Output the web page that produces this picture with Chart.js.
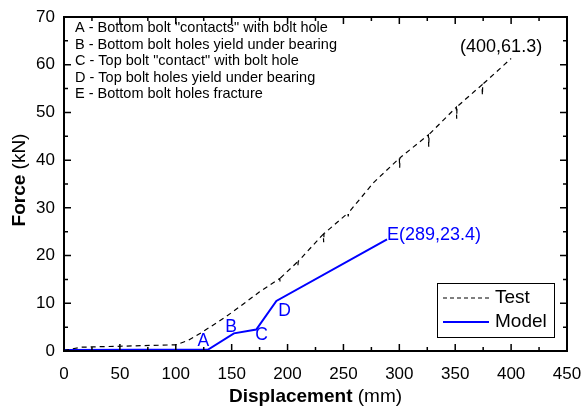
<!DOCTYPE html>
<html>
<head>
<meta charset="utf-8">
<script src="https://cdn.jsdelivr.net/npm/chart.js@4/dist/chart.umd.min.js"></script>
<style>
  html, body { margin: 0; padding: 0; background: #fff; }
  #wrap { width: 582px; height: 412px; }
</style>
</head>
<body>
<div id="wrap"><canvas id="myChart" width="582" height="412"></canvas></div>
<script>
// measured load-displacement curve (small spikes are the slip drops)
const testX = [0, 15, 50, 100, 111, 124, 145, 163, 175, 193, 193.3, 193.6, 209, 209.3, 209.6,
  232, 232.3, 232.6, 254, 254.3, 254.6, 277, 300, 300.3, 300.6, 326, 326.3, 326.6,
  351, 351.3, 351.6, 374, 374.3, 374.6, 400]
const testY = [0.1, 0.8, 1.0, 1.3, 2.2, 4.0, 7.2, 10.3, 12.4, 15.2, 14.5, 15.3, 18.7, 18.0, 18.8,
  24.5, 22.8, 24.6, 28.9, 28.2, 29.0, 35.3, 40.4, 38.4, 40.5, 45.3, 42.8, 45.4,
  51.1, 48.7, 51.2, 55.8, 53.6, 55.9, 61.3]

// model, stages A..E
const modelX = [0, 129, 152, 172, 190, 289]
const modelY = [0.2, 0.3, 3.7, 4.5, 10.5, 23.4]

const stageNames = ['A', 'B', 'C', 'D']
const stageLabelX = [124.7, 149.4, 176.8, 197.4]
const stageLabelY = [2.0, 5.0, 3.4, 8.4]

const notes = [
  'A - Bottom bolt "contacts" with bolt hole',
  'B - Bottom bolt holes yield under bearing',
  'C - Top bolt "contact" with bolt hole',
  'D - Top bolt holes yield under bearing',
  'E - Bottom bolt holes fracture'
]

const FONT = '"Liberation Sans", Arial, sans-serif'
const BLUE = '#0000ff'

function pairs(xs, ys) {
  return xs.map(function(x, i) { return { x: x, y: ys[i] } })
}

const decor = {
  id: 'decor',
  afterDraw(chart) {
    const ctx = chart.ctx
    const a = chart.chartArea
    const xs = chart.scales.x
    const ys = chart.scales.y
    ctx.save()

    // inward ticks on all four sides
    ctx.strokeStyle = '#000'
    ctx.lineWidth = 1.5
    ctx.beginPath()
    for (let v = 0; v <= 450; v += 25) {
      const x = xs.getPixelForValue(v)
      const len = v % 50 === 0 ? 7 : 4
      ctx.moveTo(x, a.bottom); ctx.lineTo(x, a.bottom - len)
      ctx.moveTo(x, a.top); ctx.lineTo(x, a.top + len)
    }
    for (let v = 0; v <= 70; v += 5) {
      const y = ys.getPixelForValue(v)
      const len = v % 10 === 0 ? 7 : 4
      ctx.moveTo(a.left, y); ctx.lineTo(a.left + len, y)
      ctx.moveTo(a.right, y); ctx.lineTo(a.right - len, y)
    }
    ctx.stroke()

    // frame
    ctx.lineWidth = 2
    ctx.strokeRect(a.left, a.top, a.right - a.left, a.bottom - a.top)

    // axis titles: bold word, normal unit
    ctx.fillStyle = '#000'
    ctx.textBaseline = 'middle'
    ctx.textAlign = 'left'
    function mixed(bold, normal, cx, cy) {
      ctx.font = 'bold 19px ' + FONT
      const w1 = ctx.measureText(bold).width
      ctx.font = '19px ' + FONT
      const w2 = ctx.measureText(normal).width
      const x0 = cx - (w1 + w2) / 2
      ctx.font = 'bold 19px ' + FONT
      ctx.fillText(bold, x0, cy)
      ctx.font = '19px ' + FONT
      ctx.fillText(normal, x0 + w1, cy)
    }
    mixed('Displacement', ' (mm)', (a.left + a.right) / 2, 397)
    ctx.save()
    ctx.translate(20, 180)
    ctx.rotate(-Math.PI / 2)
    mixed('Force', ' (kN)', 0, 0)
    ctx.restore()

    // notes block
    ctx.font = '14.5px ' + FONT
    notes.forEach(function(t, i) {
      ctx.fillText(t, a.left + 11, a.top + 11 + i * 16.5)
    })

    // stage letters
    ctx.fillStyle = BLUE
    ctx.font = '17.5px ' + FONT
    ctx.textAlign = 'center'
    stageNames.forEach(function(n, i) {
      ctx.fillText(n, xs.getPixelForValue(stageLabelX[i]), ys.getPixelForValue(stageLabelY[i]))
    })

    // end point labels
    const eX = modelX[modelX.length - 1], eY = modelY[modelY.length - 1]
    ctx.font = '18px ' + FONT
    ctx.textAlign = 'left'
    ctx.fillText('E(' + eX + ',' + eY + ')', xs.getPixelForValue(eX), ys.getPixelForValue(eY) - 4.5)
    const tX = testX[testX.length - 1], tY = testY[testY.length - 1]
    ctx.fillStyle = '#000'
    ctx.textAlign = 'center'
    ctx.fillText('(' + tX + ',' + tY + ')', xs.getPixelForValue(tX) - 10, ys.getPixelForValue(tY) - 11.5)

    // legend box
    const lx = a.right - 130, ly = a.bottom - 68
    ctx.lineWidth = 1
    ctx.strokeStyle = '#000'
    ctx.strokeRect(lx + 0.5, ly + 0.5, 117, 54)
    ctx.beginPath()
    ctx.setLineDash([4, 3])
    ctx.lineWidth = 1.2
    ctx.moveTo(lx + 6, ly + 15); ctx.lineTo(lx + 52, ly + 15)
    ctx.stroke()
    ctx.setLineDash([])
    ctx.beginPath()
    ctx.strokeStyle = BLUE
    ctx.lineWidth = 2
    ctx.moveTo(lx + 6, ly + 39); ctx.lineTo(lx + 52, ly + 39)
    ctx.stroke()
    ctx.fillStyle = '#000'
    ctx.font = '19px ' + FONT
    ctx.textAlign = 'left'
    ctx.fillText('Test', lx + 58, ly + 15)
    ctx.fillText('Model', lx + 58, ly + 39)

    ctx.restore()
  }
}

const chart = new Chart(document.getElementById('myChart'), {
  type: 'line',
  data: {
    datasets: [{
      label: 'Test',
      data: pairs(testX, testY),
      borderColor: '#000',
      borderWidth: 1.2,
      borderDash: [5, 4],
      pointRadius: 0,
      tension: 0
    }, {
      label: 'Model',
      data: pairs(modelX, modelY),
      borderColor: BLUE,
      borderWidth: 2,
      pointRadius: 0,
      tension: 0
    }]
  },
  options: {
    responsive: false,
    devicePixelRatio: 1,
    animation: false,
    layout: { padding: { top: 17, right: 15, left: 0, bottom: 0 } },
    plugins: { legend: { display: false }, tooltip: { enabled: false } },
    scales: {
      x: {
        type: 'linear',
        min: 0, max: 450,
        grid: { display: false, drawTicks: false },
        border: { display: false },
        ticks: { stepSize: 50, padding: 13, color: '#000', font: { family: FONT, size: 17 }, maxRotation: 0 },
        afterFit: function(s) {
          s.height = 61
          s.paddingLeft = 0
          s.paddingRight = 0
        }
      },
      y: {
        min: 0, max: 70,
        grid: { display: false, drawTicks: false },
        border: { display: false },
        ticks: { stepSize: 10, padding: 9, color: '#000', font: { family: FONT, size: 17 } },
        afterFit: function(s) {
          s.width = 64
          s.paddingTop = 0
          s.paddingBottom = 0
        }
      }
    }
  },
  plugins: [decor]
})
</script>
</body>
</html>
